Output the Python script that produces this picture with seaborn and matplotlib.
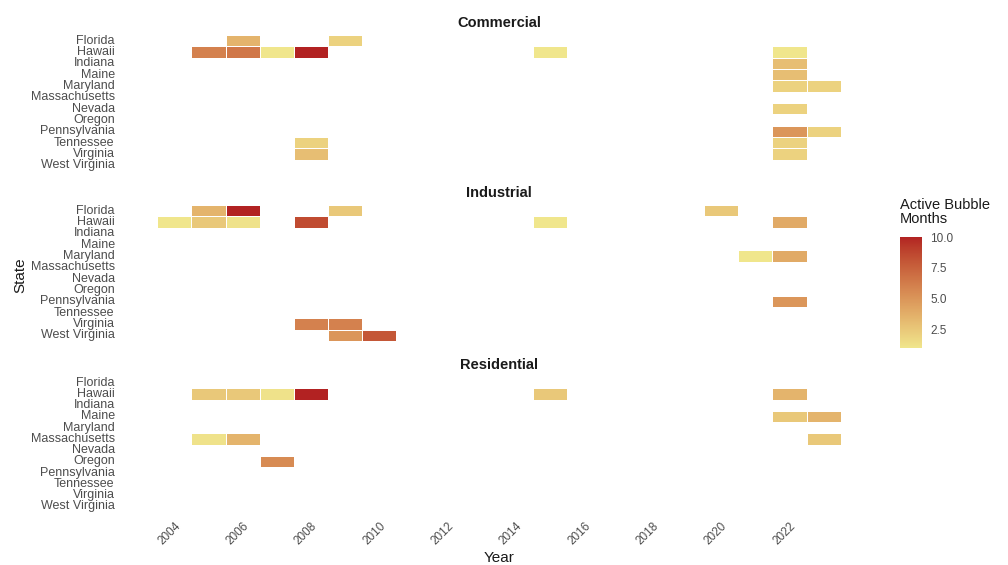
import numpy as np
import pandas as pd
import matplotlib
matplotlib.use("Agg")
import matplotlib.pyplot as plt
from matplotlib.colors import ListedColormap
import seaborn as sns

# ---- data -------------------------------------------------------------
states = ["Florida", "Hawaii", "Indiana", "Maine", "Maryland", "Massachusetts",
          "Nevada", "Oregon", "Pennsylvania", "Tennessee", "Virginia", "West Virginia"]
years = list(range(2004, 2024))
sectors = ["Commercial", "Industrial", "Residential"]
year_ticks = [2004, 2006, 2008, 2010, 2012, 2014, 2016, 2018, 2020, 2022]
colorbar_ticks = [2.5, 5.0, 7.5, 10.0]

commercial_state = ["Florida", "Florida", "Hawaii", "Hawaii", "Hawaii", "Hawaii", "Hawaii",
                    "Hawaii", "Indiana", "Maine", "Maryland", "Maryland", "Nevada",
                    "Pennsylvania", "Pennsylvania", "Tennessee", "Tennessee", "Virginia", "Virginia"]
commercial_year = [2006, 2009, 2005, 2006, 2007, 2008, 2015, 2022, 2022, 2022, 2022, 2023,
                   2022, 2022, 2023, 2008, 2022, 2008, 2022]
commercial_months = [3.5, 2, 6, 6.5, 1, 10, 1, 1, 3, 3, 2, 2, 2, 5, 2, 2, 2, 3, 2]

industrial_state = ["Florida", "Florida", "Florida", "Florida", "Hawaii", "Hawaii", "Hawaii",
                    "Hawaii", "Hawaii", "Hawaii", "Maryland", "Maryland", "Pennsylvania",
                    "Virginia", "Virginia", "West Virginia", "West Virginia"]
industrial_year = [2005, 2006, 2009, 2020, 2004, 2005, 2006, 2008, 2015, 2022, 2021, 2022,
                   2022, 2008, 2009, 2009, 2010]
industrial_months = [3.5, 10, 2.5, 2.5, 1, 2.5, 1.2, 8.5, 1, 4, 1, 4, 5, 6, 6, 5, 8]

residential_state = ["Hawaii", "Hawaii", "Hawaii", "Hawaii", "Hawaii", "Hawaii", "Maine",
                     "Maine", "Massachusetts", "Massachusetts", "Massachusetts", "Oregon"]
residential_year = [2005, 2006, 2007, 2008, 2015, 2022, 2022, 2023, 2005, 2006, 2023, 2007]
residential_months = [2.5, 2.5, 1.2, 10, 2.5, 3.5, 2.5, 3.5, 1.2, 3.5, 2.5, 5.5]

frames = {
    "Commercial": (commercial_state, commercial_year, commercial_months),
    "Industrial": (industrial_state, industrial_year, industrial_months),
    "Residential": (residential_state, residential_year, residential_months),
}


# ---- colour scale: khaki -> firebrick interpolated in CIELAB ---------
def _srgb_to_lab(rgb):
    rgb = np.asarray(rgb, float) / 255.0
    lin = np.where(rgb <= 0.04045, rgb / 12.92, ((rgb + 0.055) / 1.055) ** 2.4)
    m = np.array([[0.4124, 0.3576, 0.1805],
                  [0.2126, 0.7152, 0.0722],
                  [0.0193, 0.1192, 0.9505]])
    xyz = m @ lin / np.array([0.95047, 1.0, 1.08883])
    f = np.where(xyz > 0.008856, np.cbrt(xyz), 7.787 * xyz + 16 / 116)
    return np.array([116 * f[1] - 16, 500 * (f[0] - f[1]), 200 * (f[1] - f[2])])


def _lab_to_srgb(lab):
    L, a, b = lab
    fy = (L + 16) / 116
    fx = fy + a / 500
    fz = fy - b / 200
    f = np.array([fx, fy, fz])
    xyz = np.where(f ** 3 > 0.008856, f ** 3, (f - 16 / 116) / 7.787)
    xyz = xyz * np.array([0.95047, 1.0, 1.08883])
    m = np.array([[3.2406, -1.5372, -0.4986],
                  [-0.9689, 1.8758, 0.0415],
                  [0.0557, -0.2040, 1.0570]])
    lin = m @ xyz
    rgb = np.where(lin <= 0.0031308, 12.92 * lin, 1.055 * np.clip(lin, 0, None) ** (1 / 2.4) - 0.055)
    return np.clip(rgb, 0, 1)


low_lab = _srgb_to_lab([240, 230, 140])
high_lab = _srgb_to_lab([178, 34, 34])
cmap = ListedColormap([_lab_to_srgb(low_lab + t * (high_lab - low_lab))
                       for t in np.linspace(0, 1, 256)])

# ---- figure -----------------------------------------------------------
sns.set_theme(style="white")
plt.rcParams["font.family"] = ["Liberation Sans", "DejaVu Sans"]

fig = plt.figure(figsize=(10.08, 5.65), dpi=100)
panel_left, panel_width = 0.122, 0.746
panel_rects = [(0.6956, 0.2442), (0.3947, 0.2442), (0.0920, 0.2425)]
cbar_ax = fig.add_axes([0.893, 0.384, 0.0218, 0.1965])

tick_color = "#4D4D4D"
for i, (sector, (bottom, height)) in enumerate(zip(sectors, panel_rects)):
    ax = fig.add_axes([panel_left, bottom, panel_width, height])
    st, yr, mo = frames[sector]
    df = pd.DataFrame({"State": st, "Year": yr, "Months": mo})
    grid = (df.pivot_table(index="State", columns="Year", values="Months")
              .reindex(index=states, columns=years))
    sns.heatmap(grid, ax=ax, cmap=cmap, vmin=1, vmax=10,
                linewidths=0.6, linecolor="white",
                cbar=(i == 0), cbar_ax=cbar_ax if i == 0 else None)
    ax.set_xlim(-1, len(years) + 1)
    ax.set_ylim(len(states) + 0.1, -0.1)
    ax.set_yticks(np.arange(len(states)) + 0.5)
    ax.set_yticklabels(states, rotation=0, fontsize=9, color=tick_color)
    ax.tick_params(axis="y", length=0, pad=6)
    ax.set_ylabel("")
    ax.set_xlabel("")
    ax.set_title(sector, fontsize=10.5, fontweight="bold", color="#1A1A1A", pad=5)
    for s in ax.spines.values():
        s.set_visible(False)
    if i == len(sectors) - 1:
        ax.set_xticks([years.index(y) + 0.5 for y in year_ticks])
        ax.set_xticklabels([str(y) for y in year_ticks], rotation=45, ha="right",
                           rotation_mode="anchor", fontsize=8.5, color=tick_color)
        ax.tick_params(axis="x", length=0, pad=5)
    else:
        ax.set_xticks([])

fig.text(panel_left + panel_width / 2, 0.013, "Year", fontsize=11, color="#1A1A1A",
         ha="center", va="center")
fig.text(0.02, 0.513, "State", rotation=90, fontsize=11, color="#1A1A1A",
         ha="center", va="center")

# colour bar styling
cbar_ax.set_yticks(colorbar_ticks)
cbar_ax.set_yticklabels([f"{t:.1f}" for t in colorbar_ticks], fontsize=8.5, color=tick_color)
cbar_ax.tick_params(axis="y", direction="in", length=4, width=0.8, color="white",
                    left=True, right=True, pad=6)
for s in cbar_ax.spines.values():
    s.set_visible(False)
fig.text(0.893, 0.600, "Active Bubble\nMonths", fontsize=10.5, color="#1A1A1A",
         ha="left", va="bottom", linespacing=1.0)

fig.savefig("out.png", dpi=100, facecolor="white")
